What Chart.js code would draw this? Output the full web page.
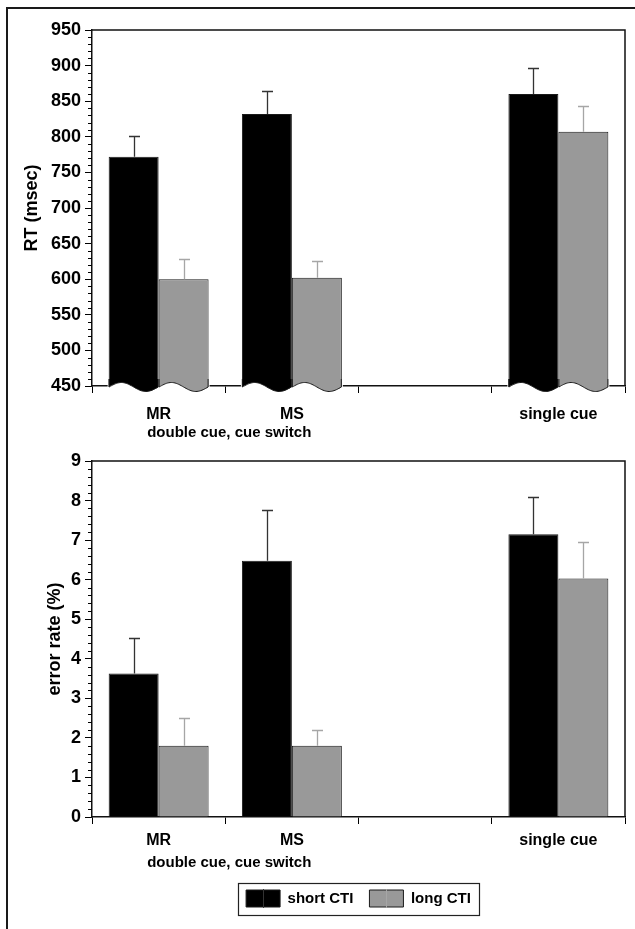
<!DOCTYPE html>
<html>
<head>
<meta charset="utf-8">
<script src="https://cdn.jsdelivr.net/npm/chart.js@4.4.1/dist/chart.umd.min.js"></script>
<style>
html,body{margin:0;padding:0;background:#fff;}
#page{position:relative;width:635px;height:929px;overflow:hidden;background:#fff;}
#frameTop{position:absolute;left:6px;top:7px;width:640px;height:0;border-top:2.4px solid #1a1a1a;}
#frameLeft{position:absolute;left:6px;top:7px;width:0;height:940px;border-left:2.4px solid #1a1a1a;}
#c1{position:absolute;left:0;top:0;}
#c2{position:absolute;left:0;top:440px;}
</style>
</head>
<body>
<div id="page">
  <div id="frameTop"></div>
  <div id="frameLeft"></div>
  <canvas id="c1" width="635" height="450"></canvas>
  <canvas id="c2" width="635" height="489"></canvas>
</div>
<script>
// ---------- data ----------
const categories = ["MR", "MS", "", "single cue"];
const groupLabel = "double cue, cue switch";
const seriesNames = ["short CTI", "long CTI"];

const rtShort    = [772, 832, null, 860];
const rtShortErr = [29, 32, null, 37];
const rtLong     = [600, 602, null, 807];
const rtLongErr  = [28, 24, null, 36];

const errShort    = [3.63, 6.48, null, 7.15];
const errShortErr = [0.90, 1.28, null, 0.95];
const errLong     = [1.80, 1.80, null, 6.03];
const errLongErr  = [0.70, 0.39, null, 0.93];

const rtAxis  = {min: 450, max: 950, step: 50, minor: 10};
const errAxis = {min: 0, max: 9, step: 1, minor: 0.2};

const rtTitle = "RT (msec)";
const errTitle = "error rate (%)";

// ---------- styles ----------
const FONT = '"Liberation Sans", Arial, Helvetica, sans-serif';
Chart.defaults.font.family = FONT;
Chart.defaults.color = '#000';
const shortFill = '#000000', longFill = '#999999';
const barBorder = '#1a1a1a';
const shortErrColor = '#333333', longErrColor = '#a6a6a6';

// ---------- plugins ----------
const framePlugin = {
  id: 'frame',
  beforeDatasetsDraw(chart, args, o) {
    const {ctx, chartArea: a} = chart;
    ctx.save();
    ctx.strokeStyle = '#111'; ctx.lineWidth = 1.5;
    ctx.beginPath();
    ctx.moveTo(a.left, a.top); ctx.lineTo(a.right, a.top); ctx.lineTo(a.right, a.bottom);
    ctx.stroke();
    const ys = chart.scales.y;
    const nPer = Math.round(o.step / o.minor);
    const nTot = Math.round((o.max - o.min) / o.minor);
    ctx.lineWidth = 1; ctx.strokeStyle = '#000';
    ctx.beginPath();
    for (let k = 0; k <= nTot; k++) {
      if (k % nPer === 0) continue;
      const py = Math.round(ys.getPixelForValue(o.min + k * o.minor)) + 0.5;
      ctx.moveTo(a.left - 4, py); ctx.lineTo(a.left, py);
    }
    ctx.stroke();
    ctx.restore();
  }
};

// axis-break wave at the foot of the bars (used only in the RT chart)
const wavePlugin = {
  id: 'axisBreakWave',
  afterDatasetsDraw(chart) {
    const {ctx} = chart;
    const ys = chart.scales.y;
    const basePx = ys.getPixelForValue(ys.min);
    const items = [];
    chart.data.datasets.forEach((ds, di) => {
      const meta = chart.getDatasetMeta(di);
      meta.data.forEach((el, i) => {
        if (ds.data[i] == null) return;
        const l = el.x - el.width / 2, r = el.x + el.width / 2;
        items.push({l, r, base: basePx, fill: ds.backgroundColor, stroke: ds.borderColor});
      });
    });
    ctx.save();
    ctx.fillStyle = '#ffffff';
    items.forEach(b => ctx.fillRect(b.l - 1, b.base - 7, b.r - b.l + 2, 16));
    const wy = (b, t) => b.base + 1 - 4.5 * Math.sin(2 * Math.PI * t);
    items.forEach(b => {
      const w = b.r - b.l, N = 40;
      ctx.beginPath();
      ctx.moveTo(b.l, b.base - 7);
      for (let k = 0; k <= N; k++) { const t = k / N; ctx.lineTo(b.l + t * w, wy(b, t)); }
      ctx.lineTo(b.r, b.base - 7);
      ctx.closePath();
      ctx.fillStyle = b.fill; ctx.fill();
      ctx.beginPath();
      ctx.moveTo(b.l + 0.5, b.base - 7);
      for (let k = 0; k <= N; k++) { const t = k / N; ctx.lineTo(b.l + 0.5 + t * (w - 1), wy(b, t)); }
      ctx.lineTo(b.r - 0.5, b.base - 7);
      ctx.strokeStyle = b.stroke; ctx.lineWidth = 1; ctx.stroke();
    });
    ctx.restore();
  }
};

const errPlugin = {
  id: 'errbars',
  afterDatasetsDraw(chart) {
    const {ctx} = chart; const ys = chart.scales.y;
    ctx.save();
    chart.data.datasets.forEach((ds, di) => {
      const meta = chart.getDatasetMeta(di);
      meta.data.forEach((el, i) => {
        const v = ds.data[i], e = ds.errors[i];
        if (v == null || e == null) return;
        const x = Math.round(el.x) + 0.5;
        const yTop = Math.round(ys.getPixelForValue(v + e)) + 0.5;
        const yBar = ys.getPixelForValue(v);
        ctx.strokeStyle = ds.errorColor; ctx.lineWidth = 1.3;
        ctx.beginPath();
        ctx.moveTo(x, yBar); ctx.lineTo(x, yTop);
        ctx.moveTo(x - 5.5, yTop); ctx.lineTo(x + 5.5, yTop);
        ctx.stroke();
      });
    });
    ctx.restore();
  }
};

const groupPlugin = {
  id: 'group',
  afterDraw(chart, args, o) {
    const {ctx} = chart; const xs = chart.scales.x;
    const cx = (xs.getPixelForValue(0) + xs.getPixelForValue(1)) / 2 + o.dx;
    ctx.save();
    ctx.font = 'bold ' + o.size + 'px ' + FONT;
    ctx.textAlign = 'center'; ctx.textBaseline = 'middle'; ctx.fillStyle = '#000';
    ctx.fillText(o.text, cx, chart.chartArea.bottom + o.offset);
    ctx.restore();
  }
};

const legendPos = {
  id: 'legendPos',
  afterLayout(chart, args, o) {
    const lg = chart.legend;
    if (!lg || !o || o.top == null) return;
    const a = chart.chartArea;
    const h = lg.height;
    lg.left = a.left; lg.right = a.right; lg.width = a.right - a.left;
    lg.top = o.top; lg.bottom = o.top + h;
  },
  afterDraw(chart, args, o) {
    const lg = chart.legend;
    if (!lg || !o || o.top == null || !lg.legendHitBoxes || !lg.legendHitBoxes.length) return;
    const hb = lg.legendHitBoxes;
    const first = hb[0], last = hb[hb.length - 1];
    const cy = first.top + first.height / 2;
    const {ctx} = chart;
    ctx.save();
    chart.data.datasets.forEach((ds, i) => {
      const b = hb[i]; if (!b) return;
      const bx = Math.round(b.left + 17) + 0.5;
      ctx.strokeStyle = ds.errorColor; ctx.lineWidth = 1;
      ctx.beginPath(); ctx.moveTo(bx, cy - 9.5); ctx.lineTo(bx, cy + 9.5); ctx.stroke();
    });
    ctx.strokeStyle = '#222'; ctx.lineWidth = 1.2;
    const x0 = Math.round(first.left - 8) + 0.5, x1 = Math.round(last.left + last.width + 8) + 0.5;
    ctx.strokeRect(x0, Math.round(cy - 16) + 0.5, x1 - x0, 32);
    ctx.restore();
  }
};

// ---------- builders ----------
function makeDatasets(sv, se, lv, le) {
  return [
    {label: seriesNames[0], data: sv, errors: se, errorColor: shortErrColor,
     backgroundColor: shortFill, borderColor: barBorder, borderWidth: 1,
     barPercentage: 1, categoryPercentage: 0.75},
    {label: seriesNames[1], data: lv, errors: le, errorColor: longErrColor,
     backgroundColor: longFill, borderColor: barBorder, borderWidth: 1,
     barPercentage: 1, categoryPercentage: 0.75}
  ];
}

function makeOptions(cfg) {
  return {
    responsive: false, animation: false,
    layout: {padding: {top: cfg.padTop, right: 10, left: 0, bottom: 0}},
    plugins: {
      legend: cfg.legend ? {
        display: true, position: 'bottom',
        labels: {boxWidth: 34, boxHeight: 17, padding: 16, color: '#000',
                 font: {size: 15, weight: 'bold', family: FONT}}
      } : {display: false},
      tooltip: {enabled: false},
      frame: cfg.axis,
      group: {text: groupLabel, offset: cfg.groupOffset, size: 15, dx: 4},
      legendPos: {top: cfg.legendTop}
    },
    scales: {
      x: {
        type: 'category', offset: true,
        grid: {offset: true, drawOnChartArea: false, drawTicks: true, tickLength: 7, tickColor: '#000', tickWidth: 1},
        border: {display: true, color: '#111', width: 1.5},
        ticks: {font: {size: 16, weight: 'bold'}, color: '#000', padding: cfg.xPad, maxRotation: 0, autoSkip: false},
        afterFit(s) { s.height = cfg.xHeight(s); }
      },
      y: {
        min: cfg.axis.min, max: cfg.axis.max,
        grid: {drawOnChartArea: false, drawTicks: true, tickLength: 7, tickColor: '#000', tickWidth: 1},
        border: {display: true, color: '#111', width: 1.5},
        ticks: {stepSize: cfg.axis.step, font: {size: 18, weight: 'bold'}, color: '#000', padding: 4},
        title: {display: true, text: cfg.title, color: '#000',
                font: {size: 18, weight: 'bold'}, padding: {top: cfg.titlePad, bottom: 0}},
        afterFit(s) { s.width = 92; }
      }
    }
  };
}

new Chart(document.getElementById('c1'), {
  type: 'bar',
  data: {labels: categories, datasets: makeDatasets(rtShort, rtShortErr, rtLong, rtLongErr)},
  options: makeOptions({padTop: 30, legend: false, axis: rtAxis, groupOffset: 47,
    xPad: 12, title: rtTitle, titlePad: 21, legendTop: null,
    xHeight: s => s.chart.height - 386}),
  plugins: [framePlugin, wavePlugin, errPlugin, groupPlugin, legendPos]
});

new Chart(document.getElementById('c2'), {
  type: 'bar',
  data: {labels: categories, datasets: makeDatasets(errShort, errShortErr, errLong, errLongErr)},
  options: makeOptions({padTop: 21, legend: true, axis: errAxis, groupOffset: 46,
    xPad: 7, title: errTitle, titlePad: 44, legendTop: 434,
    xHeight: s => s.chart.height - 377 - (s.chart.legend ? s.chart.legend.height : 0)}),
  plugins: [framePlugin, errPlugin, groupPlugin, legendPos]
});
</script>
</body>
</html>
